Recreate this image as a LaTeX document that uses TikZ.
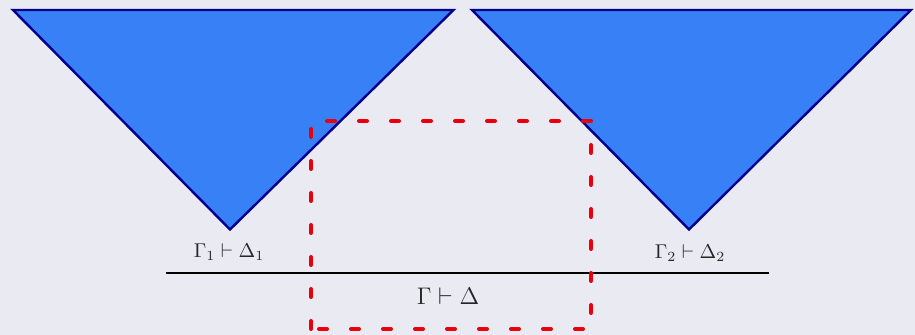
\documentclass[tikz,border=0pt]{standalone}
\begin{document}
\begin{tikzpicture}[x=0.5pt,y=-0.5pt,
  tri/.style={fill=triblue,draw=triedge,line width=1.2pt,line join=miter},
  seq/.style={inner sep=0pt,anchor=base,text=black!85},
  rule/.style={draw=black,line width=0.9pt},
  focus/.style={draw=focusred,line width=2pt,line cap=round,dash pattern=on 4pt off 12pt}]
\definecolor{bgcol}{RGB}{234,234,242}
\definecolor{triblue}{RGB}{55,128,246}
\definecolor{triedge}{RGB}{0,0,140}
\definecolor{focusred}{RGB}{232,0,10}
\useasboundingbox[fill=bgcol] (0,0) rectangle (915,335);
% triangles
\coordinate (a1) at (13,10);
\coordinate (b1) at (453.5,10);
\coordinate (c1) at (230,229.5);
\coordinate (a2) at (472,10);
\coordinate (b2) at (911,10);
\coordinate (c2) at (689,229.5);
\path[tri] (a1) -- (b1) -- (c1) -- cycle;
\path[tri] (a2) -- (b2) -- (c2) -- cycle;
% sequents
\node[seq] (s1) at (229,258) {$\Gamma_1\vdash\Delta_1$};
\node[seq] (s2) at (690,259) {$\Gamma_2\vdash\Delta_2$};
\node[seq,font=\large] (s) at (448,305) {$\Gamma\vdash\Delta$};
% inference rule
\coordinate (rl) at (166,273.3);
\coordinate (rr) at (768.5,273.3);
\draw[rule] (rl) -- (rr);
% focus box
\coordinate (f1) at (311,329);
\coordinate (f2) at (311,121);
\coordinate (f3) at (591,121);
\coordinate (f4) at (591,329);
\draw[focus] (f1) -- (f2) -- (f3) -- (f4) -- cycle;
\end{tikzpicture}
\end{document}
